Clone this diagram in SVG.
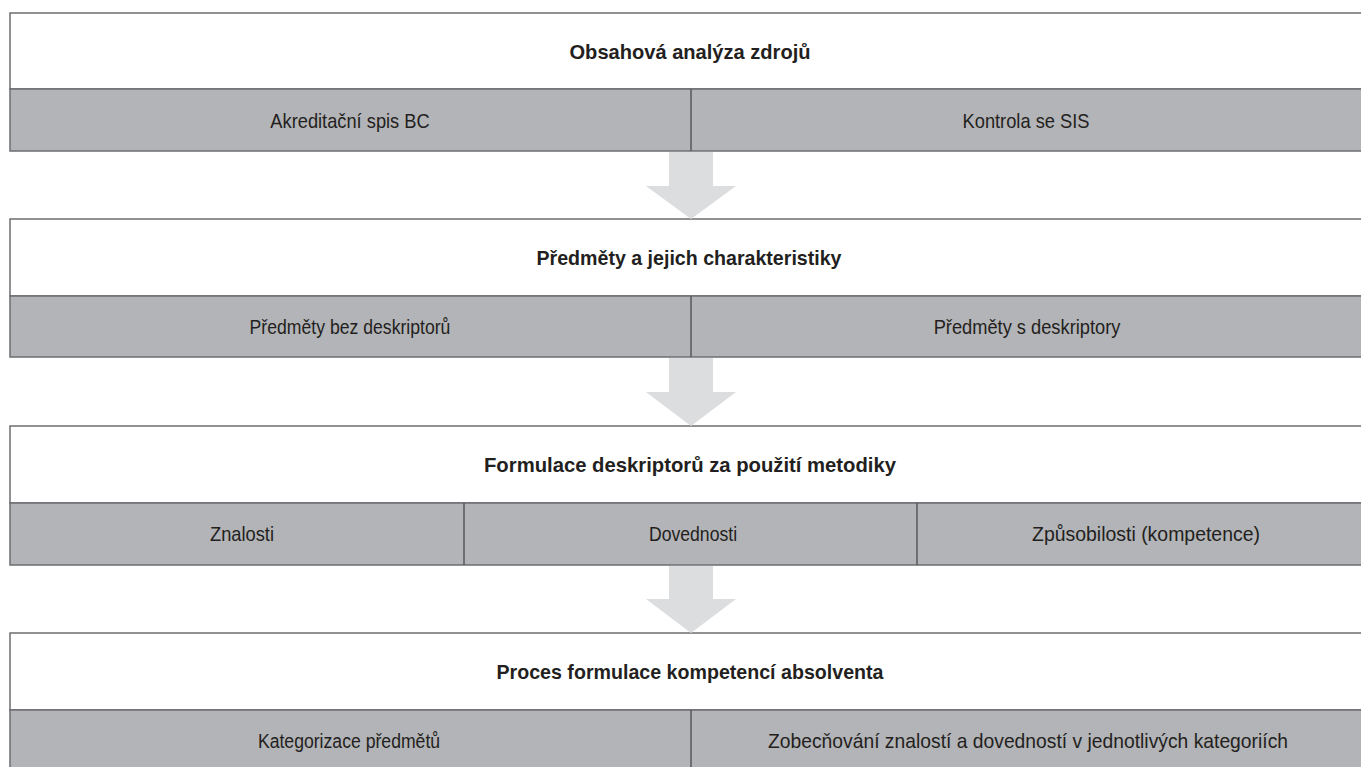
<svg xmlns="http://www.w3.org/2000/svg" width="1361" height="767" viewBox="0 0 1361 767">
<style>
.w{fill:#ffffff;stroke:#6d6e71;stroke-width:1.5}
.g{fill:#b3b4b7;stroke:#6d6e71;stroke-width:1.5}
.d{stroke:#58595b;stroke-width:1.5}
.t{font-family:"Liberation Sans",Arial,sans-serif;font-weight:bold;font-size:21px;fill:#231f20;text-anchor:middle}
.s{font-family:"Liberation Sans",Arial,sans-serif;font-size:21px;fill:#231f20;text-anchor:middle}
.a{fill:#dcdddf;stroke:none}
</style>
<rect width="1361" height="767" fill="#ffffff"/>
<g id="box1">
<rect class="w" x="10" y="13" width="1360" height="76"/>
<rect class="g" x="10" y="89" width="1360" height="62"/>
<line class="d" x1="691" y1="89" x2="691" y2="151"/>
<text class="t" x="690" y="58.5" textLength="241" lengthAdjust="spacingAndGlyphs">Obsahová analýza zdrojů</text>
<text class="s" transform="translate(350,127.5) scale(0.87,1)">Akreditační spis BC</text>
<text class="s" transform="translate(1026,127.5) scale(0.87,1)">Kontrola se SIS</text>
</g>
<g id="box2">
<rect class="w" x="10" y="219" width="1360" height="77"/>
<rect class="g" x="10" y="296" width="1360" height="61"/>
<line class="d" x1="691" y1="296" x2="691" y2="357"/>
<text class="t" x="689" y="264.5" textLength="305" lengthAdjust="spacingAndGlyphs">Předměty a jejich charakteristiky</text>
<text class="s" transform="translate(350,333.5) scale(0.84,1)">Předměty bez deskriptorů</text>
<text class="s" transform="translate(1027,333.5) scale(0.87,1)">Předměty s deskriptory</text>
</g>
<g id="box3">
<rect class="w" x="10" y="426" width="1360" height="77"/>
<rect class="g" x="10" y="503" width="1360" height="62"/>
<line class="d" x1="464" y1="503" x2="464" y2="565"/>
<line class="d" x1="917" y1="503" x2="917" y2="565"/>
<text class="t" x="690" y="471.5" textLength="412" lengthAdjust="spacingAndGlyphs">Formulace deskriptorů za použití metodiky</text>
<text class="s" transform="translate(242,540.5) scale(0.87,1)">Znalosti</text>
<text class="s" transform="translate(693,540.5) scale(0.84,1)">Dovednosti</text>
<text class="s" x="1146" y="540.5" textLength="228" lengthAdjust="spacingAndGlyphs">Způsobilosti (kompetence)</text>
</g>
<g id="box4">
<rect class="w" x="10" y="633" width="1360" height="77"/>
<rect class="g" x="10" y="710" width="1360" height="70"/>
<line class="d" x1="691" y1="710" x2="691" y2="780"/>
<text class="t" x="690" y="678.5" textLength="387" lengthAdjust="spacingAndGlyphs">Proces formulace kompetencí absolventa</text>
<text class="s" transform="translate(349,747.5) scale(0.84,1)">Kategorizace předmětů</text>
<text class="s" x="1028" y="747.5" textLength="520" lengthAdjust="spacingAndGlyphs">Zobecňování znalostí a dovedností v jednotlivých kategoriích</text>
</g>
<g id="connectors">
<polygon class="a" points="669,152 713,152 713,186 736,186 691,219 646,186 669,186"/>
<polygon class="a" points="669,358 713,358 713,392 736,392 691,426 646,392 669,392"/>
<polygon class="a" points="669,566 713,566 713,599 736,599 691,633 646,599 669,599"/>
</g>
</svg>
